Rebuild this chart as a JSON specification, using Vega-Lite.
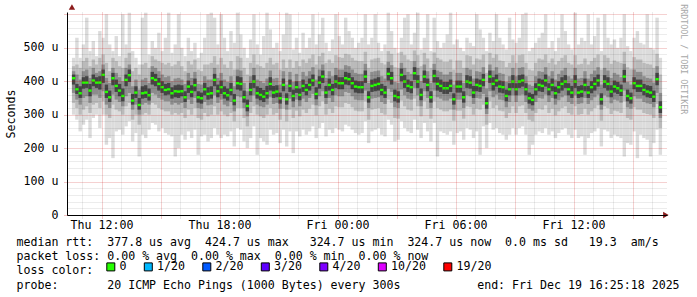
{
"$schema": "https://vega.github.io/schema/vega-lite/v6.json",
"width": 600, "height": 203,
"autosize": {"type": "none"},
"padding": {"left": 67, "top": 12, "right": 30, "bottom": 82},
"background": "#ffffff",
"config": {"view": {"stroke": null}, "font": "DejaVu Sans Mono",
  "axis": {"labelFont": "DejaVu Sans Mono", "labelFontSize": 11.6, "labelColor": "#000000", "labelOverlap": false, "labelBound": false, "labelFlush": false,
           "tickDash": [1, 1], "domainColor": "#000000", "domainWidth": 1, "gridDash": [1, 1],
           "titleFont": "DejaVu Sans Mono", "titleFontSize": 11.6, "titleFontWeight": "normal", "titleColor": "#000000"}},
"title": {"text": "RRDTOOL / TOBI OETIKER", "orient": "right", "anchor": "start", "font": "DejaVu Sans Mono", "fontSize": 8.3, "fontWeight": "normal", "color": "#a8a8a8", "offset": 1},
"data": {"values": [
{"t":"2025-12-18T10:35Z","m":409,"a":300,"b":470,"c":335,"d":445,"e":365,"f":430,"g":390,"h":420,"loss":"0"},
{"t":"2025-12-18T10:45Z","m":376,"a":285,"b":530,"c":320,"d":450,"e":345,"f":420,"g":362,"h":392,"loss":"0"},
{"t":"2025-12-18T10:55Z","m":364,"a":250,"b":470,"c":300,"d":440,"e":330,"f":405,"g":350,"h":385,"loss":"0"},
{"t":"2025-12-18T11:05Z","m":396,"a":270,"b":510,"c":315,"d":460,"e":350,"f":430,"g":378,"h":412,"loss":"0"},
{"t":"2025-12-18T11:15Z","m":396,"a":285,"b":590,"c":325,"d":470,"e":355,"f":435,"g":380,"h":415,"loss":"0"},
{"t":"2025-12-18T11:25Z","m":372,"a":230,"b":490,"c":305,"d":445,"e":335,"f":410,"g":355,"h":392,"loss":"0"},
{"t":"2025-12-18T11:35Z","m":402,"a":290,"b":520,"c":330,"d":465,"e":360,"f":440,"g":385,"h":420,"loss":"0"},
{"t":"2025-12-18T11:45Z","m":396,"a":300,"b":475,"c":335,"d":450,"e":360,"f":425,"g":380,"h":412,"loss":"0"},
{"t":"2025-12-18T11:55Z","m":396,"a":260,"b":550,"c":320,"d":470,"e":350,"f":430,"g":375,"h":415,"loss":"0"},
{"t":"2025-12-18T12:05Z","m":419,"a":300,"b":530,"c":340,"d":480,"e":370,"f":450,"g":395,"h":435,"loss":"0"},
{"t":"2025-12-18T12:15Z","m":368,"a":210,"b":600,"c":300,"d":455,"e":330,"f":410,"g":350,"h":390,"loss":"0"},
{"t":"2025-12-18T12:25Z","m":352,"a":230,"b":510,"c":290,"d":430,"e":320,"f":395,"g":338,"h":372,"loss":"0"},
{"t":"2025-12-18T12:35Z","m":409,"a":170,"b":490,"c":330,"d":470,"e":360,"f":440,"g":388,"h":425,"loss":"0"},
{"t":"2025-12-18T12:45Z","m":386,"a":250,"b":535,"c":315,"d":460,"e":345,"f":425,"g":368,"h":405,"loss":"0"},
{"t":"2025-12-18T12:55Z","m":372,"a":255,"b":475,"c":310,"d":445,"e":338,"f":412,"g":355,"h":392,"loss":"0"},
{"t":"2025-12-18T13:05Z","m":356,"a":240,"b":600,"c":300,"d":440,"e":325,"f":400,"g":340,"h":378,"loss":"0"},
{"t":"2025-12-18T13:15Z","m":404,"a":265,"b":510,"c":325,"d":470,"e":355,"f":440,"g":385,"h":420,"loss":"0"},
{"t":"2025-12-18T13:25Z","m":418,"a":280,"b":605,"c":335,"d":485,"e":365,"f":450,"g":398,"h":435,"loss":"0"},
{"t":"2025-12-18T13:35Z","m":342,"a":220,"b":490,"c":285,"d":430,"e":315,"f":385,"g":330,"h":362,"loss":"0"},
{"t":"2025-12-18T13:45Z","m":366,"a":245,"b":470,"c":300,"d":440,"e":330,"f":405,"g":350,"h":385,"loss":"0"},
{"t":"2025-12-18T13:55Z","m":329,"a":175,"b":450,"c":270,"d":420,"e":300,"f":375,"g":315,"h":350,"loss":"0"},
{"t":"2025-12-18T14:05Z","m":364,"a":240,"b":590,"c":300,"d":450,"e":330,"f":405,"g":348,"h":385,"loss":"0"},
{"t":"2025-12-18T14:15Z","m":366,"a":230,"b":605,"c":305,"d":455,"e":335,"f":410,"g":350,"h":388,"loss":"0"},
{"t":"2025-12-18T14:25Z","m":358,"a":255,"b":480,"c":300,"d":440,"e":330,"f":395,"g":342,"h":378,"loss":"0"},
{"t":"2025-12-18T14:35Z","m":409,"a":275,"b":520,"c":335,"d":475,"e":365,"f":445,"g":390,"h":428,"loss":"0"},
{"t":"2025-12-18T14:45Z","m":404,"a":270,"b":500,"c":330,"d":465,"e":360,"f":440,"g":385,"h":422,"loss":"0"},
{"t":"2025-12-18T14:55Z","m":392,"a":250,"b":545,"c":320,"d":460,"e":350,"f":430,"g":372,"h":410,"loss":"0"},
{"t":"2025-12-18T15:05Z","m":382,"a":260,"b":490,"c":315,"d":455,"e":345,"f":420,"g":365,"h":400,"loss":"0"},
{"t":"2025-12-18T15:15Z","m":374,"a":245,"b":530,"c":310,"d":450,"e":340,"f":412,"g":358,"h":392,"loss":"0"},
{"t":"2025-12-18T15:25Z","m":376,"a":240,"b":605,"c":310,"d":455,"e":340,"f":415,"g":360,"h":395,"loss":"0"},
{"t":"2025-12-18T15:35Z","m":364,"a":235,"b":485,"c":300,"d":445,"e":330,"f":400,"g":348,"h":382,"loss":"0"},
{"t":"2025-12-18T15:45Z","m":370,"a":175,"b":510,"c":305,"d":450,"e":335,"f":408,"g":352,"h":388,"loss":"0"},
{"t":"2025-12-18T15:55Z","m":369,"a":200,"b":600,"c":300,"d":460,"e":330,"f":410,"g":350,"h":390,"loss":"0"},
{"t":"2025-12-18T16:05Z","m":370,"a":240,"b":500,"c":305,"d":445,"e":335,"f":405,"g":355,"h":388,"loss":"0"},
{"t":"2025-12-18T16:15Z","m":352,"a":225,"b":475,"c":290,"d":430,"e":320,"f":392,"g":338,"h":370,"loss":"0"},
{"t":"2025-12-18T16:25Z","m":384,"a":250,"b":530,"c":315,"d":460,"e":345,"f":425,"g":365,"h":402,"loss":"0"},
{"t":"2025-12-18T16:35Z","m":368,"a":230,"b":490,"c":300,"d":450,"e":332,"f":410,"g":352,"h":388,"loss":"0"},
{"t":"2025-12-18T16:45Z","m":388,"a":255,"b":515,"c":320,"d":465,"e":350,"f":428,"g":370,"h":408,"loss":"0"},
{"t":"2025-12-18T16:55Z","m":352,"a":180,"b":470,"c":290,"d":435,"e":320,"f":392,"g":336,"h":370,"loss":"0"},
{"t":"2025-12-18T17:05Z","m":349,"a":235,"b":485,"c":285,"d":430,"e":318,"f":390,"g":333,"h":366,"loss":"0"},
{"t":"2025-12-18T17:15Z","m":376,"a":240,"b":530,"c":305,"d":450,"e":338,"f":415,"g":358,"h":395,"loss":"0"},
{"t":"2025-12-18T17:25Z","m":362,"a":220,"b":600,"c":295,"d":450,"e":328,"f":405,"g":345,"h":382,"loss":"0"},
{"t":"2025-12-18T17:35Z","m":364,"a":230,"b":605,"c":300,"d":455,"e":330,"f":405,"g":348,"h":385,"loss":"0"},
{"t":"2025-12-18T17:45Z","m":404,"a":260,"b":590,"c":325,"d":475,"e":358,"f":440,"g":385,"h":422,"loss":"0"},
{"t":"2025-12-18T17:55Z","m":370,"a":240,"b":510,"c":300,"d":450,"e":335,"f":410,"g":352,"h":390,"loss":"0"},
{"t":"2025-12-18T18:05Z","m":382,"a":230,"b":600,"c":310,"d":470,"e":345,"f":425,"g":362,"h":402,"loss":"0"},
{"t":"2025-12-18T18:15Z","m":364,"a":240,"b":530,"c":300,"d":450,"e":330,"f":405,"g":348,"h":385,"loss":"0"},
{"t":"2025-12-18T18:25Z","m":358,"a":235,"b":490,"c":295,"d":440,"e":325,"f":398,"g":342,"h":378,"loss":"0"},
{"t":"2025-12-18T18:35Z","m":374,"a":250,"b":550,"c":305,"d":460,"e":338,"f":415,"g":358,"h":395,"loss":"0"},
{"t":"2025-12-18T18:45Z","m":342,"a":205,"b":515,"c":280,"d":435,"e":310,"f":385,"g":328,"h":362,"loss":"0"},
{"t":"2025-12-18T18:55Z","m":394,"a":260,"b":605,"c":320,"d":475,"e":355,"f":435,"g":375,"h":415,"loss":"0"},
{"t":"2025-12-18T19:05Z","m":392,"a":255,"b":540,"c":320,"d":470,"e":352,"f":432,"g":372,"h":412,"loss":"0"},
{"t":"2025-12-18T19:15Z","m":352,"a":220,"b":500,"c":290,"d":440,"e":320,"f":395,"g":336,"h":372,"loss":"0"},
{"t":"2025-12-18T19:25Z","m":326,"a":200,"b":470,"c":265,"d":420,"e":295,"f":370,"g":310,"h":345,"loss":"0"},
{"t":"2025-12-18T19:35Z","m":374,"a":230,"b":525,"c":305,"d":455,"e":338,"f":415,"g":358,"h":395,"loss":"0"},
{"t":"2025-12-18T19:45Z","m":399,"a":265,"b":600,"c":325,"d":480,"e":358,"f":440,"g":380,"h":418,"loss":"0"},
{"t":"2025-12-18T19:55Z","m":364,"a":180,"b":510,"c":300,"d":450,"e":330,"f":405,"g":348,"h":385,"loss":"0"},
{"t":"2025-12-18T20:05Z","m":359,"a":230,"b":480,"c":295,"d":445,"e":325,"f":400,"g":343,"h":380,"loss":"0"},
{"t":"2025-12-18T20:15Z","m":354,"a":220,"b":535,"c":290,"d":440,"e":322,"f":395,"g":338,"h":374,"loss":"0"},
{"t":"2025-12-18T20:25Z","m":364,"a":210,"b":605,"c":300,"d":455,"e":330,"f":408,"g":348,"h":386,"loss":"0"},
{"t":"2025-12-18T20:35Z","m":392,"a":255,"b":555,"c":320,"d":470,"e":352,"f":432,"g":372,"h":412,"loss":"0"},
{"t":"2025-12-18T20:45Z","m":366,"a":240,"b":500,"c":300,"d":450,"e":332,"f":408,"g":350,"h":386,"loss":"0"},
{"t":"2025-12-18T20:55Z","m":369,"a":245,"b":515,"c":305,"d":455,"e":335,"f":410,"g":352,"h":388,"loss":"0"},
{"t":"2025-12-18T21:05Z","m":349,"a":215,"b":490,"c":285,"d":435,"e":318,"f":390,"g":333,"h":366,"loss":"0"},
{"t":"2025-12-18T21:15Z","m":389,"a":255,"b":540,"c":318,"d":465,"e":350,"f":430,"g":370,"h":408,"loss":"0"},
{"t":"2025-12-18T21:25Z","m":346,"a":205,"b":605,"c":280,"d":440,"e":315,"f":390,"g":330,"h":364,"loss":"0"},
{"t":"2025-12-18T21:35Z","m":386,"a":250,"b":600,"c":315,"d":465,"e":348,"f":428,"g":368,"h":405,"loss":"0"},
{"t":"2025-12-18T21:45Z","m":356,"a":185,"b":495,"c":290,"d":440,"e":322,"f":398,"g":340,"h":375,"loss":"0"},
{"t":"2025-12-18T21:55Z","m":382,"a":250,"b":530,"c":312,"d":460,"e":345,"f":422,"g":365,"h":400,"loss":"0"},
{"t":"2025-12-18T22:05Z","m":359,"a":235,"b":485,"c":295,"d":445,"e":325,"f":400,"g":343,"h":378,"loss":"0"},
{"t":"2025-12-18T22:15Z","m":386,"a":255,"b":545,"c":315,"d":465,"e":348,"f":428,"g":368,"h":405,"loss":"0"},
{"t":"2025-12-18T22:25Z","m":374,"a":240,"b":500,"c":305,"d":455,"e":338,"f":415,"g":358,"h":392,"loss":"0"},
{"t":"2025-12-18T22:35Z","m":389,"a":250,"b":530,"c":318,"d":468,"e":350,"f":430,"g":372,"h":408,"loss":"0"},
{"t":"2025-12-18T22:45Z","m":402,"a":265,"b":600,"c":330,"d":480,"e":362,"f":442,"g":385,"h":420,"loss":"0"},
{"t":"2025-12-18T22:55Z","m":362,"a":230,"b":510,"c":298,"d":450,"e":328,"f":405,"g":346,"h":382,"loss":"0"},
{"t":"2025-12-18T23:05Z","m":396,"a":260,"b":540,"c":325,"d":475,"e":355,"f":435,"g":378,"h":415,"loss":"0"},
{"t":"2025-12-18T23:15Z","m":414,"a":275,"b":590,"c":340,"d":485,"e":370,"f":450,"g":395,"h":432,"loss":"0"},
{"t":"2025-12-18T23:25Z","m":366,"a":235,"b":515,"c":300,"d":455,"e":332,"f":410,"g":350,"h":386,"loss":"0"},
{"t":"2025-12-18T23:35Z","m":389,"a":255,"b":490,"c":318,"d":465,"e":350,"f":430,"g":372,"h":408,"loss":"0"},
{"t":"2025-12-18T23:45Z","m":374,"a":245,"b":525,"c":305,"d":455,"e":338,"f":415,"g":358,"h":392,"loss":"0"},
{"t":"2025-12-18T23:55Z","m":399,"a":260,"b":600,"c":325,"d":478,"e":358,"f":440,"g":380,"h":418,"loss":"0"},
{"t":"2025-12-19T00:05Z","m":394,"a":255,"b":535,"c":322,"d":472,"e":355,"f":435,"g":376,"h":412,"loss":"0"},
{"t":"2025-12-19T00:15Z","m":394,"a":250,"b":510,"c":322,"d":470,"e":355,"f":435,"g":376,"h":412,"loss":"0"},
{"t":"2025-12-19T00:25Z","m":409,"a":270,"b":590,"c":335,"d":482,"e":368,"f":448,"g":390,"h":428,"loss":"0"},
{"t":"2025-12-19T00:35Z","m":406,"a":265,"b":550,"c":332,"d":480,"e":365,"f":445,"g":388,"h":425,"loss":"0"},
{"t":"2025-12-19T00:45Z","m":394,"a":255,"b":530,"c":322,"d":470,"e":355,"f":435,"g":376,"h":412,"loss":"0"},
{"t":"2025-12-19T00:55Z","m":384,"a":245,"b":500,"c":312,"d":462,"e":345,"f":425,"g":366,"h":402,"loss":"0"},
{"t":"2025-12-19T01:05Z","m":382,"a":240,"b":515,"c":310,"d":460,"e":343,"f":422,"g":364,"h":400,"loss":"0"},
{"t":"2025-12-19T01:15Z","m":382,"a":245,"b":530,"c":310,"d":460,"e":343,"f":422,"g":364,"h":400,"loss":"0"},
{"t":"2025-12-19T01:25Z","m":414,"a":280,"b":600,"c":340,"d":488,"e":372,"f":452,"g":395,"h":432,"loss":"0"},
{"t":"2025-12-19T01:35Z","m":352,"a":215,"b":510,"c":285,"d":440,"e":320,"f":395,"g":336,"h":370,"loss":"0"},
{"t":"2025-12-19T01:45Z","m":386,"a":250,"b":530,"c":315,"d":465,"e":348,"f":428,"g":368,"h":405,"loss":"0"},
{"t":"2025-12-19T01:55Z","m":389,"a":255,"b":600,"c":318,"d":468,"e":350,"f":430,"g":370,"h":408,"loss":"0"},
{"t":"2025-12-19T02:05Z","m":392,"a":260,"b":515,"c":320,"d":470,"e":352,"f":432,"g":372,"h":412,"loss":"0"},
{"t":"2025-12-19T02:15Z","m":374,"a":240,"b":490,"c":305,"d":455,"e":338,"f":415,"g":358,"h":392,"loss":"0"},
{"t":"2025-12-19T02:25Z","m":366,"a":235,"b":510,"c":300,"d":450,"e":332,"f":408,"g":350,"h":386,"loss":"0"},
{"t":"2025-12-19T02:35Z","m":422,"a":285,"b":605,"c":345,"d":490,"e":378,"f":458,"g":402,"h":440,"loss":"0"},
{"t":"2025-12-19T02:45Z","m":409,"a":270,"b":550,"c":335,"d":482,"e":368,"f":448,"g":390,"h":428,"loss":"0"},
{"t":"2025-12-19T02:55Z","m":356,"a":220,"b":500,"c":290,"d":442,"e":322,"f":398,"g":340,"h":375,"loss":"0"},
{"t":"2025-12-19T03:05Z","m":352,"a":225,"b":485,"c":288,"d":440,"e":320,"f":395,"g":336,"h":370,"loss":"0"},
{"t":"2025-12-19T03:15Z","m":419,"a":280,"b":530,"c":342,"d":488,"e":375,"f":455,"g":400,"h":438,"loss":"0"},
{"t":"2025-12-19T03:25Z","m":399,"a":260,"b":590,"c":325,"d":478,"e":358,"f":440,"g":380,"h":418,"loss":"0"},
{"t":"2025-12-19T03:35Z","m":386,"a":250,"b":600,"c":315,"d":465,"e":348,"f":428,"g":368,"h":405,"loss":"0"},
{"t":"2025-12-19T03:45Z","m":382,"a":245,"b":510,"c":312,"d":460,"e":345,"f":422,"g":364,"h":400,"loss":"0"},
{"t":"2025-12-19T03:55Z","m":424,"a":285,"b":545,"c":348,"d":492,"e":380,"f":460,"g":404,"h":442,"loss":"0"},
{"t":"2025-12-19T04:05Z","m":399,"a":255,"b":605,"c":325,"d":478,"e":358,"f":440,"g":380,"h":418,"loss":"0"},
{"t":"2025-12-19T04:15Z","m":359,"a":230,"b":495,"c":295,"d":445,"e":325,"f":400,"g":343,"h":378,"loss":"0"},
{"t":"2025-12-19T04:25Z","m":414,"a":275,"b":530,"c":340,"d":485,"e":370,"f":450,"g":395,"h":432,"loss":"0"},
{"t":"2025-12-19T04:35Z","m":389,"a":250,"b":600,"c":318,"d":468,"e":350,"f":430,"g":370,"h":408,"loss":"0"},
{"t":"2025-12-19T04:45Z","m":352,"a":220,"b":490,"c":288,"d":440,"e":320,"f":395,"g":336,"h":370,"loss":"0"},
{"t":"2025-12-19T04:55Z","m":416,"a":275,"b":590,"c":340,"d":486,"e":372,"f":452,"g":396,"h":434,"loss":"0"},
{"t":"2025-12-19T05:05Z","m":392,"a":175,"b":520,"c":320,"d":470,"e":352,"f":432,"g":372,"h":412,"loss":"0"},
{"t":"2025-12-19T05:15Z","m":386,"a":250,"b":500,"c":315,"d":465,"e":348,"f":428,"g":368,"h":405,"loss":"0"},
{"t":"2025-12-19T05:25Z","m":379,"a":245,"b":515,"c":310,"d":458,"e":342,"f":420,"g":362,"h":398,"loss":"0"},
{"t":"2025-12-19T05:35Z","m":379,"a":240,"b":540,"c":310,"d":458,"e":342,"f":420,"g":362,"h":398,"loss":"0"},
{"t":"2025-12-19T05:45Z","m":386,"a":250,"b":605,"c":315,"d":465,"e":348,"f":428,"g":368,"h":405,"loss":"0"},
{"t":"2025-12-19T05:55Z","m":346,"a":210,"b":510,"c":282,"d":435,"e":315,"f":390,"g":330,"h":364,"loss":"0"},
{"t":"2025-12-19T06:05Z","m":384,"a":245,"b":525,"c":312,"d":462,"e":345,"f":425,"g":366,"h":402,"loss":"0"},
{"t":"2025-12-19T06:15Z","m":384,"a":250,"b":500,"c":312,"d":462,"e":345,"f":425,"g":366,"h":402,"loss":"0"},
{"t":"2025-12-19T06:25Z","m":352,"a":225,"b":490,"c":288,"d":440,"e":320,"f":395,"g":336,"h":370,"loss":"0"},
{"t":"2025-12-19T06:35Z","m":399,"a":260,"b":530,"c":325,"d":478,"e":358,"f":440,"g":380,"h":418,"loss":"0"},
{"t":"2025-12-19T06:45Z","m":396,"a":255,"b":515,"c":322,"d":475,"e":355,"f":435,"g":378,"h":415,"loss":"0"},
{"t":"2025-12-19T06:55Z","m":366,"a":230,"b":505,"c":300,"d":450,"e":332,"f":408,"g":350,"h":386,"loss":"0"},
{"t":"2025-12-19T07:05Z","m":389,"a":250,"b":600,"c":318,"d":468,"e":350,"f":430,"g":370,"h":408,"loss":"0"},
{"t":"2025-12-19T07:15Z","m":386,"a":180,"b":555,"c":315,"d":465,"e":348,"f":428,"g":368,"h":405,"loss":"0"},
{"t":"2025-12-19T07:25Z","m":404,"a":265,"b":530,"c":330,"d":480,"e":362,"f":442,"g":385,"h":422,"loss":"0"},
{"t":"2025-12-19T07:35Z","m":334,"a":200,"b":490,"c":270,"d":425,"e":302,"f":378,"g":318,"h":352,"loss":"0"},
{"t":"2025-12-19T07:45Z","m":414,"a":275,"b":545,"c":340,"d":485,"e":370,"f":450,"g":395,"h":432,"loss":"0"},
{"t":"2025-12-19T07:55Z","m":392,"a":255,"b":520,"c":320,"d":470,"e":352,"f":432,"g":372,"h":412,"loss":"0"},
{"t":"2025-12-19T08:05Z","m":402,"a":260,"b":600,"c":328,"d":480,"e":360,"f":442,"g":384,"h":420,"loss":"0"},
{"t":"2025-12-19T08:15Z","m":384,"a":245,"b":530,"c":312,"d":462,"e":345,"f":425,"g":366,"h":402,"loss":"0"},
{"t":"2025-12-19T08:25Z","m":382,"a":240,"b":510,"c":310,"d":460,"e":343,"f":422,"g":364,"h":400,"loss":"0"},
{"t":"2025-12-19T08:35Z","m":356,"a":225,"b":495,"c":290,"d":442,"e":322,"f":398,"g":340,"h":375,"loss":"0"},
{"t":"2025-12-19T08:45Z","m":376,"a":240,"b":590,"c":305,"d":455,"e":338,"f":415,"g":358,"h":394,"loss":"0"},
{"t":"2025-12-19T08:55Z","m":399,"a":260,"b":525,"c":325,"d":478,"e":358,"f":440,"g":380,"h":418,"loss":"0"},
{"t":"2025-12-19T09:05Z","m":376,"a":240,"b":515,"c":305,"d":455,"e":338,"f":415,"g":358,"h":394,"loss":"0"},
{"t":"2025-12-19T09:15Z","m":399,"a":260,"b":530,"c":325,"d":478,"e":358,"f":440,"g":380,"h":418,"loss":"0"},
{"t":"2025-12-19T09:25Z","m":402,"a":265,"b":600,"c":328,"d":480,"e":360,"f":442,"g":384,"h":420,"loss":"0"},
{"t":"2025-12-19T09:35Z","m":376,"a":240,"b":605,"c":305,"d":455,"e":338,"f":415,"g":358,"h":394,"loss":"0"},
{"t":"2025-12-19T09:45Z","m":349,"a":180,"b":490,"c":285,"d":435,"e":318,"f":390,"g":333,"h":366,"loss":"0"},
{"t":"2025-12-19T09:55Z","m":344,"a":210,"b":500,"c":280,"d":432,"e":312,"f":386,"g":328,"h":362,"loss":"0"},
{"t":"2025-12-19T10:05Z","m":376,"a":240,"b":515,"c":305,"d":455,"e":338,"f":415,"g":358,"h":394,"loss":"0"},
{"t":"2025-12-19T10:15Z","m":389,"a":250,"b":530,"c":318,"d":468,"e":350,"f":430,"g":370,"h":408,"loss":"0"},
{"t":"2025-12-19T10:25Z","m":386,"a":245,"b":545,"c":315,"d":465,"e":348,"f":428,"g":368,"h":405,"loss":"0"},
{"t":"2025-12-19T10:35Z","m":402,"a":260,"b":600,"c":328,"d":480,"e":360,"f":442,"g":384,"h":420,"loss":"0"},
{"t":"2025-12-19T10:45Z","m":376,"a":240,"b":500,"c":305,"d":455,"e":338,"f":415,"g":358,"h":394,"loss":"0"},
{"t":"2025-12-19T10:55Z","m":389,"a":250,"b":520,"c":318,"d":468,"e":350,"f":430,"g":370,"h":408,"loss":"0"},
{"t":"2025-12-19T11:05Z","m":364,"a":230,"b":490,"c":298,"d":450,"e":330,"f":405,"g":348,"h":384,"loss":"0"},
{"t":"2025-12-19T11:15Z","m":382,"a":245,"b":530,"c":310,"d":460,"e":343,"f":422,"g":364,"h":400,"loss":"0"},
{"t":"2025-12-19T11:25Z","m":392,"a":255,"b":600,"c":320,"d":470,"e":352,"f":432,"g":372,"h":412,"loss":"0"},
{"t":"2025-12-19T11:35Z","m":399,"a":260,"b":550,"c":325,"d":478,"e":358,"f":440,"g":380,"h":418,"loss":"0"},
{"t":"2025-12-19T11:45Z","m":376,"a":240,"b":510,"c":305,"d":455,"e":338,"f":415,"g":358,"h":394,"loss":"0"},
{"t":"2025-12-19T11:55Z","m":366,"a":230,"b":495,"c":300,"d":450,"e":332,"f":408,"g":350,"h":386,"loss":"0"},
{"t":"2025-12-19T12:05Z","m":399,"a":255,"b":605,"c":325,"d":478,"e":358,"f":440,"g":380,"h":418,"loss":"0"},
{"t":"2025-12-19T12:15Z","m":366,"a":230,"b":510,"c":300,"d":450,"e":332,"f":408,"g":350,"h":386,"loss":"0"},
{"t":"2025-12-19T12:25Z","m":369,"a":235,"b":530,"c":302,"d":452,"e":334,"f":410,"g":352,"h":388,"loss":"0"},
{"t":"2025-12-19T12:35Z","m":389,"a":180,"b":520,"c":318,"d":468,"e":350,"f":430,"g":370,"h":408,"loss":"0"},
{"t":"2025-12-19T12:45Z","m":366,"a":230,"b":600,"c":300,"d":450,"e":332,"f":408,"g":350,"h":386,"loss":"0"},
{"t":"2025-12-19T12:55Z","m":382,"a":245,"b":510,"c":310,"d":460,"e":343,"f":422,"g":364,"h":400,"loss":"0"},
{"t":"2025-12-19T13:05Z","m":392,"a":250,"b":535,"c":320,"d":470,"e":352,"f":432,"g":372,"h":412,"loss":"0"},
{"t":"2025-12-19T13:15Z","m":402,"a":260,"b":590,"c":328,"d":480,"e":360,"f":442,"g":384,"h":420,"loss":"0"},
{"t":"2025-12-19T13:25Z","m":346,"a":205,"b":490,"c":282,"d":435,"e":315,"f":390,"g":330,"h":364,"loss":"0"},
{"t":"2025-12-19T13:35Z","m":399,"a":255,"b":600,"c":325,"d":478,"e":358,"f":440,"g":380,"h":418,"loss":"0"},
{"t":"2025-12-19T13:45Z","m":392,"a":250,"b":530,"c":320,"d":470,"e":352,"f":432,"g":372,"h":412,"loss":"0"},
{"t":"2025-12-19T13:55Z","m":369,"a":230,"b":510,"c":302,"d":452,"e":334,"f":410,"g":352,"h":388,"loss":"0"},
{"t":"2025-12-19T14:05Z","m":384,"a":240,"b":525,"c":312,"d":462,"e":345,"f":425,"g":366,"h":402,"loss":"0"},
{"t":"2025-12-19T14:15Z","m":379,"a":235,"b":500,"c":310,"d":458,"e":342,"f":420,"g":362,"h":398,"loss":"0"},
{"t":"2025-12-19T14:25Z","m":372,"a":230,"b":530,"c":305,"d":455,"e":336,"f":412,"g":356,"h":390,"loss":"0"},
{"t":"2025-12-19T14:35Z","m":414,"a":175,"b":600,"c":340,"d":488,"e":372,"f":452,"g":396,"h":434,"loss":"0"},
{"t":"2025-12-19T14:45Z","m":356,"a":215,"b":505,"c":290,"d":442,"e":322,"f":398,"g":340,"h":375,"loss":"0"},
{"t":"2025-12-19T14:55Z","m":349,"a":210,"b":490,"c":285,"d":436,"e":318,"f":390,"g":333,"h":366,"loss":"0"},
{"t":"2025-12-19T15:05Z","m":394,"a":250,"b":530,"c":322,"d":472,"e":355,"f":435,"g":376,"h":412,"loss":"0"},
{"t":"2025-12-19T15:15Z","m":386,"a":170,"b":550,"c":315,"d":465,"e":348,"f":428,"g":368,"h":405,"loss":"0"},
{"t":"2025-12-19T15:25Z","m":386,"a":240,"b":515,"c":315,"d":465,"e":348,"f":428,"g":368,"h":405,"loss":"0"},
{"t":"2025-12-19T15:35Z","m":374,"a":230,"b":510,"c":305,"d":455,"e":338,"f":415,"g":358,"h":392,"loss":"0"},
{"t":"2025-12-19T15:45Z","m":369,"a":225,"b":600,"c":302,"d":452,"e":334,"f":410,"g":352,"h":388,"loss":"0"},
{"t":"2025-12-19T15:55Z","m":366,"a":175,"b":500,"c":300,"d":450,"e":332,"f":408,"g":350,"h":386,"loss":"0"},
{"t":"2025-12-19T16:05Z","m":354,"a":215,"b":495,"c":290,"d":440,"e":322,"f":396,"g":338,"h":372,"loss":"0"},
{"t":"2025-12-19T16:15Z","m":406,"a":255,"b":590,"c":332,"d":482,"e":365,"f":445,"g":388,"h":425,"loss":"0"},
{"t":"2025-12-19T16:25Z","m":322,"a":180,"b":470,"c":260,"d":420,"e":290,"f":365,"g":305,"h":340,"loss":"0"}
]},
"encoding": {
  "x": {"field": "t", "type": "temporal", "scale": {"type": "utc", "domain": [1766053800000, 1766161800000]},
        "axis": {"values": [1766055600000,1766059200000,1766062800000,1766066400000,1766070000000,1766073600000,1766077200000,1766080800000,1766084400000,1766088000000,1766091600000,1766095200000,1766098800000,1766102400000,1766106000000,1766109600000,1766113200000,1766116800000,1766120400000,1766124000000,1766127600000,1766131200000,1766134800000,1766138400000,1766142000000,1766145600000,1766149200000,1766152800000,1766156400000,1766160000000],
                 "labelExpr": "utchours(datum.value) % 6 == 0 ? utcFormat(datum.value, '%a %H:%M') : ''",
                 "labelPadding": 1.5, "tickSize": 3,
                 "tickColor": {"condition": {"test": "utchours(datum.value) % 3 == 0", "value": "rgba(200,0,0,0.45)"}, "value": "rgba(0,0,0,0.2)"},
                 "grid": true, "zindex": 1,
                 "gridColor": {"condition": {"test": "utchours(datum.value) % 3 == 0", "value": "rgba(200,0,0,0.36)"}, "value": "rgba(0,0,0,0.15)"},
                 "title": ["median\u00a0rtt:\u00a0\u00a0377.8\u00a0us\u00a0avg\u00a0\u00a0424.7\u00a0us\u00a0max\u00a0\u00a0\u00a0324.7\u00a0us\u00a0min\u00a0\u00a0324.7\u00a0us\u00a0now\u00a0\u00a00.0\u00a0ms\u00a0sd\u00a0\u00a0\u00a019.3\u00a0\u00a0am/s",
                           "packet\u00a0loss:\u00a00.00\u00a0%\u00a0avg\u00a0\u00a00.00\u00a0%\u00a0max\u00a0\u00a00.00\u00a0%\u00a0min\u00a0\u00a00.00\u00a0%\u00a0now",
                           "loss\u00a0color:",
                           "probe:\u00a0\u00a0\u00a0\u00a0\u00a0\u00a0\u00a020\u00a0ICMP\u00a0Echo\u00a0Pings\u00a0(1000\u00a0Bytes)\u00a0every\u00a0300s\u00a0\u00a0\u00a0\u00a0\u00a0\u00a0\u00a0\u00a0\u00a0\u00a0\u00a0end:\u00a0Fri\u00a0Dec\u00a019\u00a016:25:18\u00a02025"],
                 "titleAlign": "left", "titleAnchor": "start", "titleBaseline": "alphabetic", "titleX": -51, "titleY": 30.3, "titleLineHeight": 14.33}}
},
"layer": [
{"mark": {"type": "bar", "size": 3.4, "color": "#dcdcdc"},
 "encoding": {
  "y": {"field": "a", "type": "quantitative", "scale": {"domain": [0, 607], "nice": false, "zero": false},
        "axis": {"values": [0,20,40,60,80,100,120,140,160,180,200,220,240,260,280,300,320,340,360,380,400,420,440,460,480,500,520,540,560,580,600], "labelExpr": "datum.value % 100 == 0 && datum.value <= 500 ? (datum.value == 0 ? '0\u00a0\u00a0' : datum.value + '\u00a0u') : ''", "labelPadding": 5, "tickSize": 4, "tickColor": {"condition": {"test": "datum.value % 100 == 0", "value": "rgba(200,0,0,0.45)"}, "value": "rgba(0,0,0,0)"}, "grid": true, "zindex": 1, "gridColor": {"condition": {"test": "datum.value % 100 == 0", "value": "rgba(200,0,0,0.36)"}, "value": "rgba(0,0,0,0.15)"}, "title": "Seconds", "titleAngle": -90, "titleX": -55.5, "titleY": 101.5, "titleAlign": "center", "titleBaseline": "middle"}},
  "y2": {"field": "b"}}},
{"mark": {"type": "bar", "size": 3.4, "color": "#bababa"},
 "encoding": {
  "y": {"field": "c", "type": "quantitative", "scale": {"domain": [0, 607], "nice": false, "zero": false},
        "axis": {"values": [0,20,40,60,80,100,120,140,160,180,200,220,240,260,280,300,320,340,360,380,400,420,440,460,480,500,520,540,560,580,600], "labelExpr": "datum.value % 100 == 0 && datum.value <= 500 ? (datum.value == 0 ? '0\u00a0\u00a0' : datum.value + '\u00a0u') : ''", "labelPadding": 5, "tickSize": 4, "tickColor": {"condition": {"test": "datum.value % 100 == 0", "value": "rgba(200,0,0,0.45)"}, "value": "rgba(0,0,0,0)"}, "grid": true, "zindex": 1, "gridColor": {"condition": {"test": "datum.value % 100 == 0", "value": "rgba(200,0,0,0.36)"}, "value": "rgba(0,0,0,0.15)"}, "title": "Seconds", "titleAngle": -90, "titleX": -55.5, "titleY": 101.5, "titleAlign": "center", "titleBaseline": "middle"}},
  "y2": {"field": "d"}}},
{"mark": {"type": "bar", "size": 3.4, "color": "#8c8c8c"},
 "encoding": {
  "y": {"field": "e", "type": "quantitative", "scale": {"domain": [0, 607], "nice": false, "zero": false},
        "axis": {"values": [0,20,40,60,80,100,120,140,160,180,200,220,240,260,280,300,320,340,360,380,400,420,440,460,480,500,520,540,560,580,600], "labelExpr": "datum.value % 100 == 0 && datum.value <= 500 ? (datum.value == 0 ? '0\u00a0\u00a0' : datum.value + '\u00a0u') : ''", "labelPadding": 5, "tickSize": 4, "tickColor": {"condition": {"test": "datum.value % 100 == 0", "value": "rgba(200,0,0,0.45)"}, "value": "rgba(0,0,0,0)"}, "grid": true, "zindex": 1, "gridColor": {"condition": {"test": "datum.value % 100 == 0", "value": "rgba(200,0,0,0.36)"}, "value": "rgba(0,0,0,0.15)"}, "title": "Seconds", "titleAngle": -90, "titleX": -55.5, "titleY": 101.5, "titleAlign": "center", "titleBaseline": "middle"}},
  "y2": {"field": "f"}}},
{"mark": {"type": "bar", "size": 3.4, "color": "#454545"},
 "encoding": {
  "y": {"field": "g", "type": "quantitative", "scale": {"domain": [0, 607], "nice": false, "zero": false},
        "axis": {"values": [0,20,40,60,80,100,120,140,160,180,200,220,240,260,280,300,320,340,360,380,400,420,440,460,480,500,520,540,560,580,600], "labelExpr": "datum.value % 100 == 0 && datum.value <= 500 ? (datum.value == 0 ? '0\u00a0\u00a0' : datum.value + '\u00a0u') : ''", "labelPadding": 5, "tickSize": 4, "tickColor": {"condition": {"test": "datum.value % 100 == 0", "value": "rgba(200,0,0,0.45)"}, "value": "rgba(0,0,0,0)"}, "grid": true, "zindex": 1, "gridColor": {"condition": {"test": "datum.value % 100 == 0", "value": "rgba(200,0,0,0.36)"}, "value": "rgba(0,0,0,0.15)"}, "title": "Seconds", "titleAngle": -90, "titleX": -55.5, "titleY": 101.5, "titleAlign": "center", "titleBaseline": "middle"}},
  "y2": {"field": "h"}}},
{"mark": {"type": "tick", "orient": "horizontal", "size": 3.3, "thickness": 2.4, "opacity": 1},
 "encoding": {
  "y": {"field": "m", "type": "quantitative", "scale": {"domain": [0, 607], "nice": false, "zero": false},
        "axis": {"values": [0,20,40,60,80,100,120,140,160,180,200,220,240,260,280,300,320,340,360,380,400,420,440,460,480,500,520,540,560,580,600], "labelExpr": "datum.value % 100 == 0 && datum.value <= 500 ? (datum.value == 0 ? '0\u00a0\u00a0' : datum.value + '\u00a0u') : ''", "labelPadding": 5, "tickSize": 4, "tickColor": {"condition": {"test": "datum.value % 100 == 0", "value": "rgba(200,0,0,0.45)"}, "value": "rgba(0,0,0,0)"}, "grid": true, "zindex": 1, "gridColor": {"condition": {"test": "datum.value % 100 == 0", "value": "rgba(200,0,0,0.36)"}, "value": "rgba(0,0,0,0.15)"}, "title": "Seconds", "titleAngle": -90, "titleX": -55.5, "titleY": 101.5, "titleAlign": "center", "titleBaseline": "middle"}},
  "color": {"field": "loss", "type": "nominal",
            "scale": {"domain": ["0", "1/20", "2/20", "3/20", "4/20", "10/20", "19/20"], "range": ["#26ff00", "#00b8ff", "#0059ff", "#5e00ff", "#7e00ff", "#dd00ff", "#ff0000"]},
            "legend": {"title": null, "orient": "none", "legendX": 38, "legendY": 249, "direction": "horizontal", "columns": 7,
                       "symbolType": "square", "symbolSize": 64, "symbolStrokeColor": "#000000", "symbolStrokeWidth": 1, "symbolOpacity": 1,
                       "labelFont": "DejaVu Sans Mono", "labelFontSize": 11.6, "labelColor": "#000000", "labelOffset": 3, "columnPadding": 14.5, "padding": 0}}
 }},
{"transform": [{"filter": "time(datum.t) == 1766054100000"}],
 "mark": {"type": "point", "shape": "triangle-up", "filled": true, "size": 40, "color": "#8c1c1c", "opacity": 1, "clip": false, "xOffset": -1.7, "yOffset": -5},
 "encoding": {
  "y": {"datum": 607, "type": "quantitative", "scale": {"domain": [0, 607], "nice": false, "zero": false},
        "axis": {"values": [0,20,40,60,80,100,120,140,160,180,200,220,240,260,280,300,320,340,360,380,400,420,440,460,480,500,520,540,560,580,600], "labelExpr": "datum.value % 100 == 0 && datum.value <= 500 ? (datum.value == 0 ? '0\u00a0\u00a0' : datum.value + '\u00a0u') : ''", "labelPadding": 5, "tickSize": 4, "tickColor": {"condition": {"test": "datum.value % 100 == 0", "value": "rgba(200,0,0,0.45)"}, "value": "rgba(0,0,0,0)"}, "grid": true, "zindex": 1, "gridColor": {"condition": {"test": "datum.value % 100 == 0", "value": "rgba(200,0,0,0.36)"}, "value": "rgba(0,0,0,0.15)"}, "title": "Seconds", "titleAngle": -90, "titleX": -55.5, "titleY": 101.5, "titleAlign": "center", "titleBaseline": "middle"}}}},
{"transform": [{"filter": "time(datum.t) == 1766161500000"}],
 "mark": {"type": "point", "shape": "triangle-right", "filled": true, "size": 40, "color": "#8c1c1c", "opacity": 1, "clip": false, "xOffset": 5.5},
 "encoding": {
  "y": {"datum": 0, "type": "quantitative", "scale": {"domain": [0, 607], "nice": false, "zero": false},
        "axis": {"values": [0,20,40,60,80,100,120,140,160,180,200,220,240,260,280,300,320,340,360,380,400,420,440,460,480,500,520,540,560,580,600], "labelExpr": "datum.value % 100 == 0 && datum.value <= 500 ? (datum.value == 0 ? '0\u00a0\u00a0' : datum.value + '\u00a0u') : ''", "labelPadding": 5, "tickSize": 4, "tickColor": {"condition": {"test": "datum.value % 100 == 0", "value": "rgba(200,0,0,0.45)"}, "value": "rgba(0,0,0,0)"}, "grid": true, "zindex": 1, "gridColor": {"condition": {"test": "datum.value % 100 == 0", "value": "rgba(200,0,0,0.36)"}, "value": "rgba(0,0,0,0.15)"}, "title": "Seconds", "titleAngle": -90, "titleX": -55.5, "titleY": 101.5, "titleAlign": "center", "titleBaseline": "middle"}}}}
]
}
